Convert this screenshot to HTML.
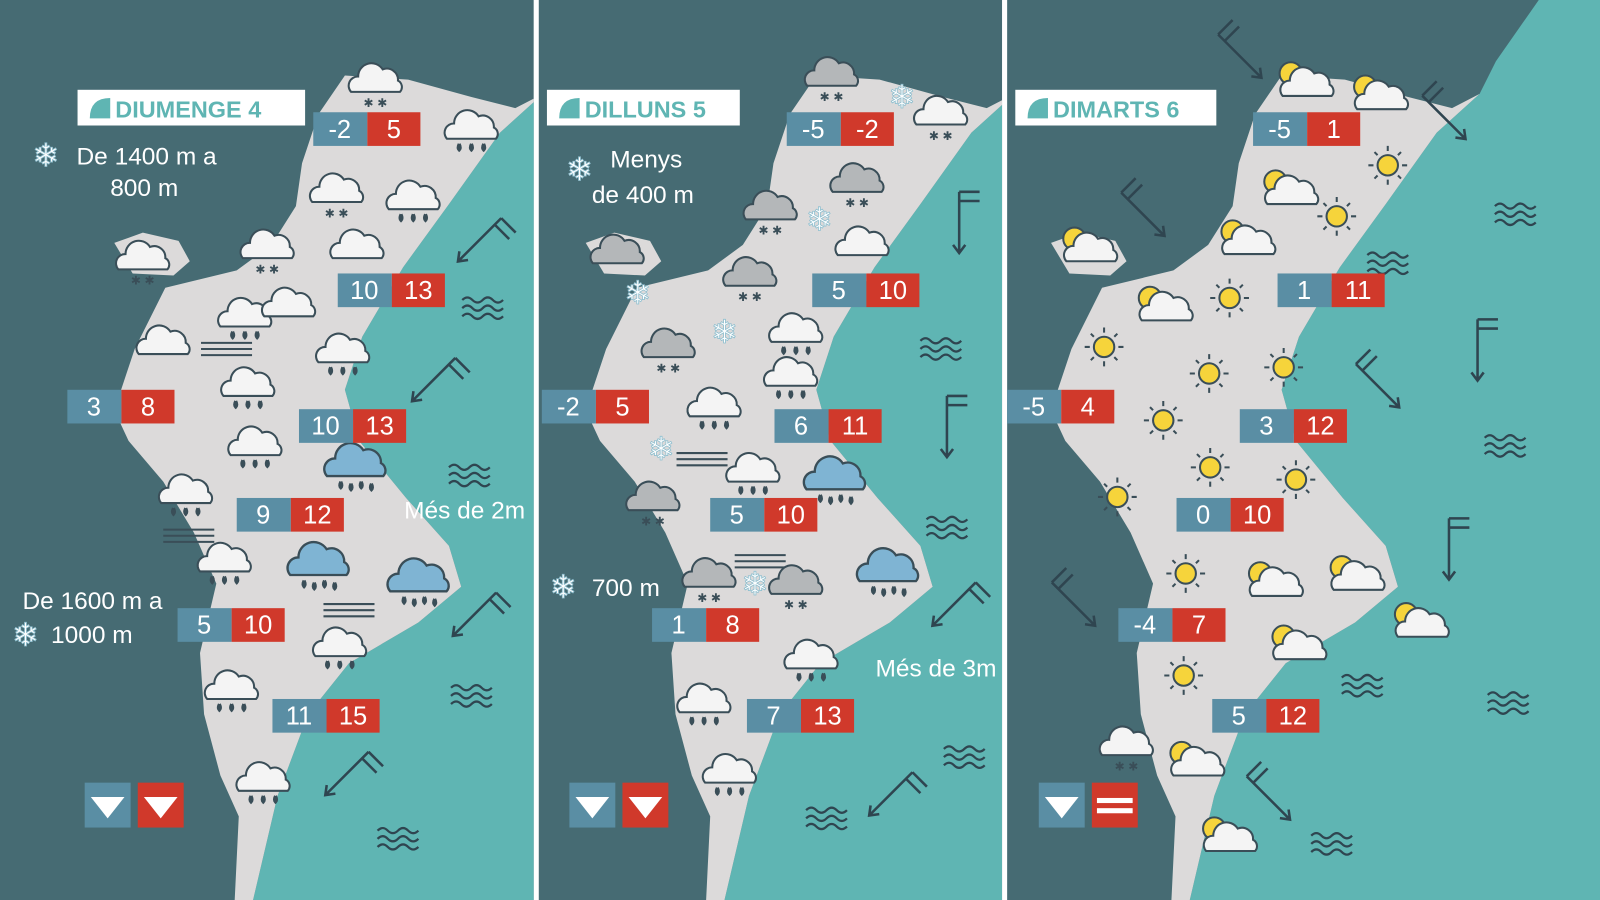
<!DOCTYPE html>
<html><head><meta charset="utf-8"><style>
html,body{margin:0;padding:0;background:#fff;overflow:hidden}
svg{display:block}
text{font-family:"Liberation Sans",sans-serif}
</style></head><body>
<svg width="1600" height="900" viewBox="0 0 1568 882" preserveAspectRatio="none" xmlns="http://www.w3.org/2000/svg">
<defs>
<clipPath id="c1"><rect x="0" y="0" width="523" height="882"/></clipPath>
<clipPath id="c2"><rect x="528" y="0" width="454" height="882"/></clipPath>
<clipPath id="c3"><rect x="987" y="0" width="581" height="882"/></clipPath>
<g id="map">
<path fill="#5fb5b3" d="M532,92 L490,130 L440,200 L395,262 L355,330 L338,382 L352,432 L398,488 L440,535 L452,575 L410,610 L342,650 L302,700 L272,780 L248,882 L1300,882 L1300,0 L590,0 L548,60 Z"/>
<path fill="#dcdada" d="M312,112 L338,74 L400,78 L462,95 L505,106 L532,92 L490,130 L440,200 L395,262 L355,330 L338,382 L352,432 L398,488 L440,535 L452,575 L410,610 L342,650 L302,700 L272,780 L248,882 L230,882 L234,800 L216,760 L200,700 L196,640 L212,572 L190,522 L160,472 L126,432 L112,402 L132,342 L162,282 L232,265 L266,240 L290,202 L296,160 Z"/>
<path fill="#dcdada" d="M112,238 L140,228 L175,236 L186,256 L170,270 L130,268 Z"/>
</g>
<path id="cl" d="M-24,10 A9 9 0 0 1 -17,-5 A13 13 0 0 1 7,-12 A11 11 0 0 1 22,-1 A7 7 0 0 1 24,10 Z" stroke="#3a4e58" stroke-width="2"/>
<g id="cloud"><use href="#cl" fill="#f4f4f4"/></g>
<g id="rain"><use href="#cl" fill="#f4f4f4"/><path d="M-12,15 q-2,4 0,6 q2,-2 0,-6 M0,15 q-2,4 0,6 q2,-2 0,-6 M12,15 q-2,4 0,6 q2,-2 0,-6" stroke="#3a4e58" stroke-width="3" fill="#3a4e58"/></g>
<g id="snow"><use href="#cl" fill="#f4f4f4"/><text x="0" y="25" font-size="12" text-anchor="middle" fill="#3a4e58">✱ ✱</text></g>
<g id="gsnow"><use href="#cl" fill="#b4b7b9"/><text x="0" y="25" font-size="12" text-anchor="middle" fill="#3a4e58">✱ ✱</text></g>
<g id="gcloud"><use href="#cl" fill="#b4b7b9"/></g>
<g id="brain"><use href="#cl" fill="#7fb4d3" transform="scale(1.15)"/><path d="M-14,17 q-2,4 0,6 q2,-2 0,-6 M-4,19 q-2,4 0,6 q2,-2 0,-6 M6,17 q-2,4 0,6 q2,-2 0,-6 M16,19 q-2,4 0,6 q2,-2 0,-6" stroke="#3a4e58" stroke-width="3" fill="#3a4e58"/></g>
<g id="sun"><path d="M0,-19 V-14 M0,14 V19 M-19,0 H-14 M14,0 H19 M-13,-13 L-10,-10 M13,13 L10,10 M-13,13 L-10,10 M13,-13 L10,-10" stroke="#3a4e58" stroke-width="2"/><circle r="10" fill="#f6d43b" stroke="#3a4e58" stroke-width="2"/></g>
<g id="sunc"><circle cx="-10" cy="-10" r="11" fill="#f6d43b" stroke="#3a4e58" stroke-width="2"/><use href="#cl" fill="#f4f4f4" transform="translate(6,2)"/></g>
<g id="fog"><path d="M-25,-6 H25 M-25,0 H25 M-25,6 H25" stroke="#3a4e58" stroke-width="2"/></g>
<g id="wave"><path d="M-20,-8 q5,-5 10,0 t10,0 t10,0 t10,0 M-20,0 q5,-5 10,0 t10,0 t10,0 t10,0 M-20,8 q5,-5 10,0 t10,0 t10,0 t10,0" stroke="#2f4550" stroke-width="2.2" fill="none"/></g>
<g id="wind"><path d="M0,-30 V30 M-6,22 L0,30 L6,22 M0,-30 H20 M0,-21 H20" stroke="#2f4550" stroke-width="2.5" fill="none"/></g>
<g id="flake"><text x="0" y="11" font-size="32" text-anchor="middle" fill="#fff" stroke="#8fbfcf" stroke-width="0.8">❄</text></g>
</defs>
<rect width="1568" height="882" fill="#fff"/>
<g clip-path="url(#c1)"><rect width="1568" height="882" fill="#466b73"/><use href="#map"/></g>
<g clip-path="url(#c2)"><rect width="1568" height="882" fill="#466b73"/><use href="#map" transform="translate(462,0)"/></g>
<g clip-path="url(#c3)"><rect width="1568" height="882" fill="#466b73"/><use href="#map" transform="translate(918,0)"/></g>

<!-- headers -->
<g font-weight="bold" font-size="23" fill="#5fb5b3">
<rect x="76" y="88" width="223" height="35" fill="#fff"/><path d="M88,116 Q88,96 108,96 V116 Z"/><text x="113" y="115">DIUMENGE 4</text>
<rect x="536" y="88" width="189" height="35" fill="#fff"/><path d="M548,116 Q548,96 568,96 V116 Z"/><text x="573" y="115">DILLUNS 5</text>
<rect x="995" y="88" width="197" height="35" fill="#fff"/><path d="M1007,116 Q1007,96 1027,96 V116 Z"/><text x="1032" y="115">DIMARTS 6</text>
</g>

<!-- P1 icons -->
<use href="#snow" x="368" y="80"/><use href="#rain" x="462" y="126"/><use href="#snow" x="330" y="188"/><use href="#rain" x="405" y="195"/>
<use href="#snow" x="262" y="243"/><use href="#cloud" x="350" y="243"/><use href="#snow" x="140" y="254"/><use href="#rain" x="240" y="310"/>
<use href="#cloud" x="283" y="300"/><use href="#cloud" x="160" y="337"/><use href="#fog" x="222" y="342"/><use href="#rain" x="336" y="345"/>
<use href="#rain" x="243" y="378"/><use href="#rain" x="250" y="436"/><use href="#brain" x="348" y="455"/><use href="#rain" x="182" y="483"/>
<use href="#fog" x="185" y="525"/><use href="#rain" x="220" y="550"/><use href="#brain" x="312" y="552"/><use href="#brain" x="410" y="568"/>
<use href="#fog" x="342" y="598"/><use href="#rain" x="333" y="633"/><use href="#rain" x="227" y="675"/><use href="#rain" x="258" y="765"/>
<use href="#wind" transform="translate(470,235) rotate(45)"/><use href="#wind" transform="translate(425,372) rotate(45)"/>
<use href="#wind" transform="translate(465,602) rotate(45)"/><use href="#wind" transform="translate(340,758) rotate(45)"/>
<use href="#wave" x="473" y="302"/><use href="#wave" x="460" y="466"/><use href="#wave" x="462" y="682"/><use href="#wave" x="390" y="822"/>

<!-- P2 icons -->
<use href="#gsnow" x="815" y="74"/><use href="#flake" x="884" y="95"/><use href="#snow" x="922" y="112"/><use href="#gsnow" x="840" y="178"/>
<use href="#gsnow" x="755" y="205"/><use href="#flake" x="803" y="215"/><use href="#cloud" x="845" y="240"/><use href="#gcloud" x="605" y="248"/>
<use href="#flake" x="625" y="287"/><use href="#gsnow" x="735" y="270"/><use href="#flake" x="710" y="325"/><use href="#rain" x="780" y="325"/>
<use href="#gsnow" x="655" y="340"/><use href="#rain" x="775" y="368"/><use href="#rain" x="700" y="398"/><use href="#flake" x="648" y="440"/>
<use href="#fog" x="688" y="450"/><use href="#rain" x="738" y="462"/><use href="#brain" x="818" y="468"/><use href="#gsnow" x="640" y="490"/>
<use href="#fog" x="745" y="550"/><use href="#gsnow" x="695" y="565"/><use href="#flake" x="740" y="572"/><use href="#gsnow" x="780" y="572"/>
<use href="#brain" x="870" y="558"/><use href="#rain" x="795" y="645"/><use href="#rain" x="690" y="688"/><use href="#rain" x="715" y="757"/>
<use href="#wind" x="940" y="218"/><use href="#wind" x="928" y="418"/>
<use href="#wind" transform="translate(935,592) rotate(45)"/><use href="#wind" transform="translate(873,778) rotate(45)"/>
<use href="#wave" x="922" y="342"/><use href="#wave" x="928" y="517"/><use href="#wave" x="945" y="742"/><use href="#wave" x="810" y="802"/>

<!-- P3 icons -->
<use href="#wind" transform="translate(1215,55) rotate(-45)"/><use href="#wind" transform="translate(1415,115) rotate(-45)"/>
<use href="#wind" transform="translate(1120,210) rotate(-45)"/><use href="#wind" transform="translate(1448,343)"/>
<use href="#wind" transform="translate(1350,378) rotate(-45)"/><use href="#wind" transform="translate(1420,538)"/>
<use href="#wind" transform="translate(1052,592) rotate(-45)"/><use href="#wind" transform="translate(1243,782) rotate(-45)"/>
<use href="#sunc" x="1275" y="82"/><use href="#sunc" x="1348" y="95"/><use href="#sun" x="1360" y="162"/><use href="#sunc" x="1260" y="188"/>
<use href="#sun" x="1310" y="212"/><use href="#sunc" x="1063" y="244"/><use href="#sunc" x="1218" y="237"/><use href="#sunc" x="1137" y="302"/>
<use href="#sun" x="1205" y="292"/><use href="#sun" x="1082" y="340"/><use href="#sun" x="1185" y="366"/><use href="#sun" x="1258" y="360"/>
<use href="#sun" x="1140" y="412"/><use href="#sun" x="1186" y="458"/><use href="#sun" x="1270" y="470"/><use href="#sun" x="1095" y="487"/>
<use href="#sun" x="1162" y="562"/><use href="#sunc" x="1245" y="572"/><use href="#sunc" x="1325" y="566"/><use href="#sunc" x="1388" y="612"/>
<use href="#sunc" x="1268" y="634"/><use href="#sun" x="1160" y="662"/><use href="#snow" x="1104" y="730"/><use href="#sunc" x="1168" y="748"/>
<use href="#sunc" x="1200" y="822"/>
<use href="#wave" x="1485" y="210"/><use href="#wave" x="1360" y="258"/><use href="#wave" x="1475" y="437"/><use href="#wave" x="1335" y="672"/>
<use href="#wave" x="1478" y="689"/><use href="#wave" x="1305" y="827"/>

<!-- temps -->
<g font-size="25" fill="#fff" text-anchor="middle">
<g id="t"></g>
<rect x="307" y="110" width="53" height="33" fill="#5a8ea4"/><rect x="360" y="110" width="52" height="33" fill="#d0392b"/><text x="333" y="135">-2</text><text x="386" y="135">5</text>
<rect x="331" y="268" width="53" height="33" fill="#5a8ea4"/><rect x="384" y="268" width="52" height="33" fill="#d0392b"/><text x="357" y="293">10</text><text x="410" y="293">13</text>
<rect x="66" y="382" width="53" height="33" fill="#5a8ea4"/><rect x="119" y="382" width="52" height="33" fill="#d0392b"/><text x="92" y="407">3</text><text x="145" y="407">8</text>
<rect x="293" y="401" width="53" height="33" fill="#5a8ea4"/><rect x="346" y="401" width="52" height="33" fill="#d0392b"/><text x="319" y="426">10</text><text x="372" y="426">13</text>
<rect x="232" y="488" width="53" height="33" fill="#5a8ea4"/><rect x="285" y="488" width="52" height="33" fill="#d0392b"/><text x="258" y="513">9</text><text x="311" y="513">12</text>
<rect x="174" y="596" width="53" height="33" fill="#5a8ea4"/><rect x="227" y="596" width="52" height="33" fill="#d0392b"/><text x="200" y="621">5</text><text x="253" y="621">10</text>
<rect x="267" y="685" width="53" height="33" fill="#5a8ea4"/><rect x="320" y="685" width="52" height="33" fill="#d0392b"/><text x="293" y="710">11</text><text x="346" y="710">15</text>

<rect x="771" y="110" width="53" height="33" fill="#5a8ea4"/><rect x="824" y="110" width="52" height="33" fill="#d0392b"/><text x="797" y="135">-5</text><text x="850" y="135">-2</text>
<rect x="796" y="268" width="53" height="33" fill="#5a8ea4"/><rect x="849" y="268" width="52" height="33" fill="#d0392b"/><text x="822" y="293">5</text><text x="875" y="293">10</text>
<rect x="531" y="382" width="53" height="33" fill="#5a8ea4"/><rect x="584" y="382" width="52" height="33" fill="#d0392b"/><text x="557" y="407">-2</text><text x="610" y="407">5</text>
<rect x="759" y="401" width="53" height="33" fill="#5a8ea4"/><rect x="812" y="401" width="52" height="33" fill="#d0392b"/><text x="785" y="426">6</text><text x="838" y="426">11</text>
<rect x="696" y="488" width="53" height="33" fill="#5a8ea4"/><rect x="749" y="488" width="52" height="33" fill="#d0392b"/><text x="722" y="513">5</text><text x="775" y="513">10</text>
<rect x="639" y="596" width="53" height="33" fill="#5a8ea4"/><rect x="692" y="596" width="52" height="33" fill="#d0392b"/><text x="665" y="621">1</text><text x="718" y="621">8</text>
<rect x="732" y="685" width="53" height="33" fill="#5a8ea4"/><rect x="785" y="685" width="52" height="33" fill="#d0392b"/><text x="758" y="710">7</text><text x="811" y="710">13</text>

<rect x="1228" y="110" width="53" height="33" fill="#5a8ea4"/><rect x="1281" y="110" width="52" height="33" fill="#d0392b"/><text x="1254" y="135">-5</text><text x="1307" y="135">1</text>
<rect x="1252" y="268" width="53" height="33" fill="#5a8ea4"/><rect x="1305" y="268" width="52" height="33" fill="#d0392b"/><text x="1278" y="293">1</text><text x="1331" y="293">11</text>
<rect x="987" y="382" width="53" height="33" fill="#5a8ea4"/><rect x="1040" y="382" width="52" height="33" fill="#d0392b"/><text x="1013" y="407">-5</text><text x="1066" y="407">4</text>
<rect x="1215" y="401" width="53" height="33" fill="#5a8ea4"/><rect x="1268" y="401" width="52" height="33" fill="#d0392b"/><text x="1241" y="426">3</text><text x="1294" y="426">12</text>
<rect x="1153" y="488" width="53" height="33" fill="#5a8ea4"/><rect x="1206" y="488" width="52" height="33" fill="#d0392b"/><text x="1179" y="513">0</text><text x="1232" y="513">10</text>
<rect x="1096" y="596" width="53" height="33" fill="#5a8ea4"/><rect x="1149" y="596" width="52" height="33" fill="#d0392b"/><text x="1122" y="621">-4</text><text x="1175" y="621">7</text>
<rect x="1188" y="685" width="53" height="33" fill="#5a8ea4"/><rect x="1241" y="685" width="52" height="33" fill="#d0392b"/><text x="1214" y="710">5</text><text x="1267" y="710">12</text>
</g>

<!-- texts -->
<g font-size="24" fill="#fff">
<use href="#flake" x="45" y="152"/><text x="75" y="161">De 1400 m a</text><text x="108" y="192">800 m</text>
<text x="396" y="508" fill="#fff">Més de 2m</text>
<text x="22" y="597">De 1600 m a</text><use href="#flake" x="25" y="622"/><text x="50" y="630">1000 m</text>
<use href="#flake" x="568" y="166"/><text x="598" y="164">Menys</text><text x="580" y="199">de 400 m</text>
<use href="#flake" x="552" y="575"/><text x="580" y="584">700 m</text>
<text x="858" y="663">Més de 3m</text>
</g>

<!-- trend boxes -->
<rect x="83" y="767" width="45" height="44" fill="#5a8ea4"/><path d="M89,781 H122 L105.5,802 Z" fill="#fff"/>
<rect x="135" y="767" width="45" height="44" fill="#d0392b"/><path d="M141,781 H174 L157.5,802 Z" fill="#fff"/>
<rect x="558" y="767" width="45" height="44" fill="#5a8ea4"/><path d="M564,781 H597 L580.5,802 Z" fill="#fff"/>
<rect x="610" y="767" width="45" height="44" fill="#d0392b"/><path d="M616,781 H649 L632.5,802 Z" fill="#fff"/>
<rect x="1018" y="767" width="45" height="44" fill="#5a8ea4"/><path d="M1024,781 H1057 L1040.5,802 Z" fill="#fff"/>
<rect x="1070" y="767" width="45" height="44" fill="#d0392b"/><rect x="1075" y="782" width="35" height="5" fill="#fff"/><rect x="1075" y="792" width="35" height="5" fill="#fff"/>
</svg>
</body></html>
